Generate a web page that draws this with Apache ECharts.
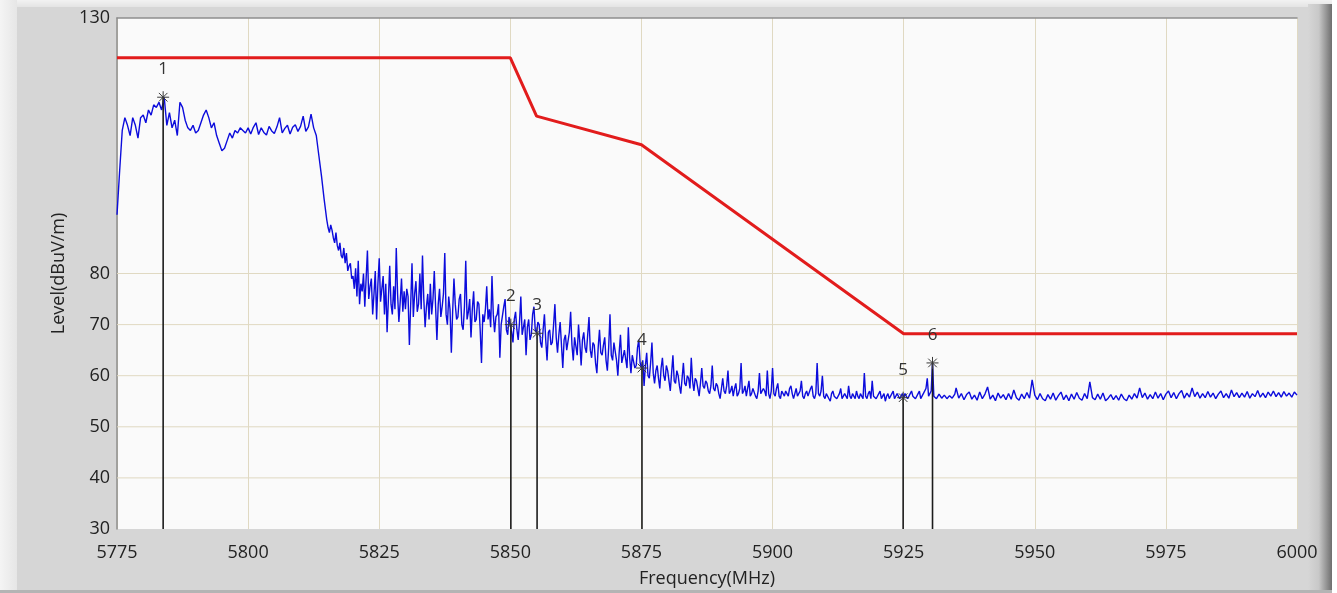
<!DOCTYPE html>
<html><head><meta charset="utf-8">
<script src="https://cdn.jsdelivr.net/npm/echarts@6/dist/echarts.min.js"></script>
<style>
html,body{margin:0;padding:0;background:#fff;}
#wrap{position:relative;width:1337px;height:593px;overflow:hidden;background:#d6d6d6;}
.dec{position:absolute;}
#chart{position:absolute;left:0;top:0;width:1337px;height:593px;}
</style></head><body>
<div id="wrap">
 <div class="dec" style="left:0;top:0;width:1337px;height:7px;background:linear-gradient(#f2f2f2,#e4e4e4);"></div>
 <div class="dec" style="left:0;top:0;width:17px;height:593px;background:linear-gradient(to right,#f4f4f4,#e6e6e6);"></div>
 <div class="dec" style="left:1308px;top:4px;width:24px;height:589px;background:linear-gradient(to right,#d6d6d6,#c8c8c8 45%,#6e6e6e);"></div>
 <div class="dec" style="left:1332px;top:0;width:5px;height:593px;background:#fff;"></div>
 <div class="dec" style="left:0;top:590px;width:1332px;height:3px;background:#b4b4b4;"></div>
 <div id="chart"></div>
</div>
<script>
// ---------------- data ----------------
// Trace segment A: 5775 - 5814.5 MHz, every 0.5 MHz (one row = 5 MHz)
const startA = 5775, stepA = 0.5;
const levelsA = [
  91.5, 100, 108, 110.5, 109, 107, 110.5, 109, 106.5, 110.5,
  111, 109.5, 112, 111, 113, 112.5, 113.5, 112, 114.5, 109,
  111.5, 108.5, 110, 107, 113.5, 112.5, 110, 108.5, 108, 109,
  107.5, 108, 109.5, 111, 112, 110.5, 108.5, 109.5, 107, 105.5,
  104, 104.5, 106, 107.5, 106.5, 108, 107.5, 108.5, 108, 107.5,
  108.5, 107.3, 108.6, 109.5, 107.2, 108.5, 107.6, 107.1, 108.8, 107.9,
  107.4, 108.7, 110.5, 107.5, 108.4, 109, 107.3, 108.6, 109.1, 107.8,
  108.8, 110.8, 107.8, 108.7, 111.2, 108.5, 107, 103, 99, 94.5
];
// Trace segment B: 5815 - 5934.75 MHz, every 0.25 MHz (one row = 5 MHz)
const startB = 5815, stepB = 0.25;
const levelsB = [
  90.5, 89, 88, 89.5, 88.5, 87, 86, 88, 85.5, 84.5, 86, 83.5, 83, 85, 82, 84, 80.5, 81.5, 82, 79,
  79.5, 77, 81, 75.5, 82.5, 74, 78, 76.5, 80, 73.5, 79, 84.5, 75, 77.5, 79, 72, 76, 80.5, 71, 78,
  83, 74.5, 77, 79.5, 72, 78, 68.5, 75, 81.5, 74, 72, 77.5, 73, 85, 76, 70.5, 74.5, 79, 72.5, 76.5,
  73, 77, 75.5, 66, 74, 82, 71.5, 76, 78.5, 72.5, 74, 80, 73, 83.5, 75, 69.5, 73.5, 76, 71, 78,
  72, 75, 80.5, 73.5, 67, 74, 77, 71.5, 73.5, 76, 84, 72, 70, 75.5, 73, 64.5, 72.5, 79, 74, 71,
  71.5, 75, 76, 70, 69, 73.5, 82.5, 71, 72.5, 75, 67.5, 73, 76.5, 70.5, 71, 74.5, 74, 69, 62.5, 72,
  70.5, 73, 77.5, 71, 73, 69.5, 79.5, 72, 68.5, 71.5, 72, 74, 63.5, 70, 70, 73.5, 75, 69, 68, 71.5,
  70, 68.5, 66.5, 71, 72.5, 69, 67, 70.5, 75.5, 68, 69.5, 71, 64, 69.5, 71, 67, 68, 72, 73.5, 69,
  68.4, 70.5, 70, 66.5, 65.5, 69, 72, 67, 63, 68.5, 69, 66, 66.5, 70, 74, 67.5, 64.5, 68, 70.5, 66,
  61.5, 67, 68, 65, 65, 68.5, 72.5, 66, 63, 67.5, 67.5, 64, 70, 66.5, 62, 67, 68.5, 65.5, 64.5, 68,
  71.5, 65, 63.5, 66.5, 66, 62.5, 60.5, 65.5, 69, 64.5, 64, 66, 67.5, 63, 61, 65.5, 72, 64, 63, 66.5,
  66.5, 63, 60, 64.5, 68, 62.5, 62.5, 65, 65, 61.5, 69.5, 63.5, 60.5, 64, 64, 61.5, 62, 65.5, 67, 62.5,
  61.5, 63, 58, 62, 64.5, 60, 59.5, 62.5, 66.5, 60.5, 58.5, 61, 62, 59.5, 57.5, 61.5, 63.5, 60, 59, 62,
  61, 59, 57, 60.5, 64, 59, 58.5, 61, 60, 58, 56.5, 59.5, 62.5, 58.5, 58, 60, 59.5, 57.5, 63.5, 59,
  57, 59.5, 59, 57.5, 56, 58.5, 61.5, 58, 57.5, 59, 58.5, 57, 56.5, 58, 62, 57.5, 57, 58.5, 58, 56.5,
  55.5, 57.5, 59.5, 57, 56.5, 58, 61, 56.5, 57, 58, 56, 57.5, 58.5, 56, 56.5, 57.5, 62.5, 56.5, 57, 58,
  56, 57.5, 59, 56, 56.5, 57.5, 57.5, 56, 55.5, 57, 60.5, 56.5, 56.5, 57.5, 57, 56, 61, 56.5, 55.5, 57,
  61.5, 56.5, 56, 57.5, 58.5, 56, 55.5, 57, 57, 56, 57, 56.5, 56, 57.5, 58, 56.5, 55.5, 56.5, 57.5, 56,
  56, 57, 59, 56, 55.5, 56.5, 57, 56, 56, 57.5, 58, 56, 55.5, 56.5, 62.5, 56.5, 56, 57, 60, 56,
  55.5, 56.5, 56.5, 55.5, 55, 56.5, 57, 56, 56, 55.5, 55.5, 56.5, 57.5, 55.5, 55.5, 56.5, 56.5, 55.5, 58, 56,
  55.5, 56.5, 56.5, 55.5, 57, 56, 55.5, 56.5, 56, 55.5, 60.5, 56, 55.5, 56.5, 57, 55.5, 59, 56, 56, 55.5,
  55.5, 56.5, 57, 55.5, 56, 56.5, 55, 56, 56.5, 55.5, 55.5, 56.5, 57, 55.5, 55.5, 56.5, 56.5, 55.5, 55.5, 56.5,
  55.7, 56.5, 56.5, 55.5, 55.5, 56.5, 57, 56, 56, 55.5, 55.5, 56.5, 57, 55.5, 56, 56.5, 56.5, 57.5, 59.5, 56,
  56, 57, 62.5, 56, 56, 55.5, 55.3, 56.4, 56.6, 55.6, 55.4, 56.2, 56.4, 55.5, 55.2, 56.1, 56.2, 55.6, 55.5, 56.4
];
// Trace segment C: 5935 - 6000 MHz, every 0.5 MHz (one row = 5 MHz)
const startC = 5935, stepC = 0.5;
const levelsC = [
  57.6, 55.6, 56.5, 55.3, 56.3, 56.8, 55.4, 56.2, 55.2, 56.8,
  55.5, 56.4, 57.8, 55.4, 56.2, 55.1, 56.6, 55.6, 56.3, 55.3,
  56.5, 55.4, 57.2, 55.7, 55.2, 56.4, 55.5, 56.7, 55.6, 59.2,
  56.2, 55.3, 56.5, 55.5, 55.1, 56.3, 55.4, 56.6, 55.2, 56.1,
  56.8, 55.3, 56.2, 55.1, 56.4, 55.4, 56.7, 55.6, 55.2, 56.5,
  55.5, 58.8, 55.7, 55.3, 56.4, 55.4, 56.6, 55.1, 55.6, 56.3,
  55.3, 56.1, 55.2, 56.4, 55.5, 55.1, 56.2, 55.4, 56.5, 55.6,
  57.6, 55.7, 56.6, 55.4, 56.3, 55.5, 56.8, 55.6, 56.5, 55.3,
  56.4, 57, 55.7, 56.7, 55.5, 56.5, 57.1, 55.6, 56.6, 55.8,
  57.6, 55.9, 56.8, 55.6, 56.5, 55.7, 56.9, 55.8, 56.6, 55.5,
  56.4, 57, 55.7, 56.5, 55.6, 57.2, 55.9, 56.7, 55.7, 56.6,
  55.8, 56.9, 55.6, 56.5, 55.9, 57.1, 55.8, 56.6, 55.7, 56.8,
  56, 57, 55.9, 56.7, 55.8, 56.9, 56, 56.6, 55.8, 56.8,
  56.2
];
// limit line (red)
const limitFreq  = [5775, 5850, 5855, 5875, 5925, 6000];
const limitLevel = [122.2, 122.2, 110.8, 105.2, 68.2, 68.2];
// markers
const markerNames = ['1', '2', '3', '4', '5', '6'];
const markerFreq  = [5783.8, 5850.1, 5855.1, 5875.1, 5924.9, 5930.5];
const markerLevel = [114.5, 70, 68.3, 61.5, 55.7, 62.5];
// axes
const xMin = 5775, xMax = 6000, xInterval = 25;
const yMin = 30, yMax = 130, yInterval = 10;
const yLabelValues = [30, 40, 50, 60, 70, 80, 130];
const yGridValues = [40, 50, 60, 70, 80];

// ---------------- chart ----------------
const FONT = '"Open Sans", "Noto Sans", sans-serif';
const seg = (levels, start, step) => levels.map((v, i) => [start + i * step, v]);
const traceData = [].concat(seg(levelsA, startA, stepA), seg(levelsB, startB, stepB), seg(levelsC, startC, stepC));
const limitData = limitFreq.map((f, i) => [f, limitLevel[i]]);
const markerData = markerFreq.map((f, i) => [f, markerLevel[i]]);

const chart = echarts.init(document.getElementById('chart'), null, { renderer: 'canvas' });
chart.setOption({
  animation: false,
  backgroundColor: 'transparent',
  grid: { left: 117, top: 18, right: 40, bottom: 63, show: true, backgroundColor: '#fafafa', borderWidth: 0 },
  xAxis: [{
    type: 'value', min: xMin, max: xMax, interval: xInterval, position: 'bottom',
    name: 'Frequency(MHz)', nameLocation: 'middle', nameGap: 41,
    nameTextStyle: { color: '#222', fontSize: 18, fontFamily: FONT },
    axisLine: { show: false }, axisTick: { show: false },
    axisLabel: { margin: 15, color: '#222', fontSize: 18, fontFamily: FONT, formatter: v => String(v) },
    splitLine: { show: true, lineStyle: { color: '#e0d9c2', width: 1 } }
  }, {
    type: 'value', min: xMin, max: xMax, position: 'top',
    axisLine: { show: true, lineStyle: { color: '#8e8e8e', width: 1.5 } },
    axisTick: { show: false }, axisLabel: { show: false }, splitLine: { show: false }
  }],
  yAxis: {
    type: 'value', min: yMin, max: yMax, interval: yInterval,
    name: 'Level(dBuV/m)', nameLocation: 'middle', nameGap: 46,
    nameTextStyle: { color: '#222', fontSize: 18, fontFamily: FONT },
    axisLine: { show: true, lineStyle: { color: '#8e8e8e', width: 1.5 } },
    axisTick: { show: false },
    axisLabel: { customValues: yLabelValues, margin: 7, color: '#222', fontSize: 18, fontFamily: FONT },
    splitLine: { show: false }
  },
  series: [{
    type: 'custom', name: 'ygrid', z: 1, silent: true,
    data: yGridValues.map(v => [xMin, v]),
    renderItem: (params, api) => {
      const a = api.coord([xMin, api.value(1)]);
      const b = api.coord([xMax, api.value(1)]);
      return { type: 'line', shape: { x1: a[0], y1: a[1], x2: b[0], y2: b[1] },
               style: { stroke: '#e0d9c2', lineWidth: 1 } };
    }
  }, {
    type: 'line', name: 'Limit', data: limitData, z: 4, showSymbol: false, silent: true,
    lineStyle: { color: '#e21c1c', width: 3 }
  }, {
    type: 'line', name: 'Level', data: traceData, z: 3, showSymbol: false, silent: true,
    sampling: null, lineStyle: { color: '#0c0cdc', width: 1.4 }
  }, {
    type: 'custom', name: 'Markers', z: 5, silent: true, data: markerData,
    renderItem: (params, api) => {
      const p = api.coord([api.value(0), api.value(1)]);
      const b = api.coord([api.value(0), yMin]);
      const r = 6, d = 4.3;
      const st = { stroke: '#3a3a3a', lineWidth: 1 };
      return { type: 'group', children: [
        { type: 'line', shape: { x1: p[0], y1: p[1], x2: b[0], y2: b[1] }, style: { stroke: '#1c1c1c', lineWidth: 1.6 } },
        { type: 'line', shape: { x1: p[0] - r, y1: p[1], x2: p[0] + r, y2: p[1] }, style: st },
        { type: 'line', shape: { x1: p[0], y1: p[1] - r, x2: p[0], y2: p[1] + r }, style: st },
        { type: 'line', shape: { x1: p[0] - d, y1: p[1] - d, x2: p[0] + d, y2: p[1] + d }, style: st },
        { type: 'line', shape: { x1: p[0] - d, y1: p[1] + d, x2: p[0] + d, y2: p[1] - d }, style: st },
        { type: 'text', style: { text: markerNames[params.dataIndex], x: p[0], y: p[1] - 28,
            align: 'center', verticalAlign: 'middle', fontSize: 17, fontFamily: FONT, fill: '#333' } }
      ]};
    }
  }]
});
</script>
</body></html>
